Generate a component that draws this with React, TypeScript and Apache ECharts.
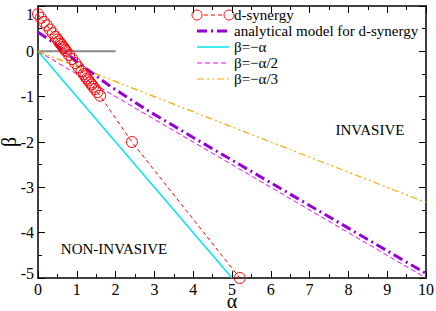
import React, { useEffect, useRef } from "react";
import * as echarts from "echarts";

const xTicks = [0, 10];
const yTicks = [-5, 1];

const dSynergy: number[][] = [
  [0.0, 0.82], [0.07, 0.74], [0.15, 0.65], [0.23, 0.57], [0.31, 0.48], [0.38, 0.4],
  [0.45, 0.32], [0.5, 0.26], [0.54, 0.22], [0.58, 0.17], [0.61, 0.14], [0.64, 0.1],
  [0.67, 0.07], [0.7, 0.03], [0.73, 0.0], [0.8, -0.08], [0.88, -0.17], [0.96, -0.26],
  [1.04, -0.35], [1.12, -0.44], [1.18, -0.5], [1.22, -0.55], [1.26, -0.6], [1.3, -0.64],
  [1.34, -0.69], [1.38, -0.73], [1.42, -0.78], [1.47, -0.83], [1.53, -0.9], [1.6, -0.98],
  [2.42, -2.0], [5.2, -5.0],
];
const analytical: number[][] = [
  [0, 0.42], [0.4, 0.19], [1.0, -0.23], [1.86, -0.77], [2.8, -1.29], [4, -1.9],
  [6, -2.9], [8, -3.9], [10, -4.9],
];
const lineMinusA: number[][] = [[0, 0], [5, -5]];
const lineMinusAHalf: number[][] = [[0, 0], [10, -5]];
const lineMinusAThird: number[][] = [[0, 0], [10, -3.333]];
const zeroRef: number[][] = [[0, 0], [2, 0]];

const legendNames = [
  "d-synergy",
  "analytical model for d-synergy",
  "β=−α",
  "β=−α/2",
  "β=−α/3",
];

const FONT = "Liberation Serif";
const RED = "#ff0000";
const PURPLE = "#9400d3";
const CYAN = "#00e5f0";
const MAGENTA = "#ff00ff";
const ORANGE = "#ffa500";

export default function App() {
  const ref = useRef<HTMLDivElement>(null);
  useEffect(() => {
    if (!ref.current) return;
    const chart = echarts.init(ref.current, null, { renderer: "svg" });
    const axisCommon = {
      type: "value" as const,
      axisLine: { show: true, onZero: false, lineStyle: { color: "#000", width: 1.5 } },
      axisTick: { show: true, inside: true, length: 7, lineStyle: { color: "#000", width: 1 } },
      minorTick: { show: true, splitNumber: 2, length: 4, lineStyle: { color: "#000", width: 1 } },
      splitLine: { show: false },
      minorSplitLine: { show: false },
    };
    const legendY0 = 15;
    const legendDy = 16;
    const lx0 = 197;
    const lx1 = 229;
    const styles = [
      { stroke: RED, lineWidth: 1, lineDash: [4, 3] },
      { stroke: PURPLE, lineWidth: 3, lineDash: [10, 4, 2, 4] },
      { stroke: CYAN, lineWidth: 1.5 },
      { stroke: MAGENTA, lineWidth: 1, lineDash: [5, 3] },
      { stroke: ORANGE, lineWidth: 1.2, lineDash: [7, 3, 2, 3, 2, 3] },
    ];
    const graphics: any[] = [];
    legendNames.forEach((name, i) => {
      const y = legendY0 + i * legendDy;
      graphics.push({
        type: "line",
        shape: { x1: lx0, y1: y, x2: lx1, y2: y },
        style: { ...styles[i], fill: null },
        silent: true,
      });
      if (i === 0) {
        graphics.push({ type: "circle", shape: { cx: lx0, cy: y, r: 5 }, style: { stroke: RED, fill: "#fff", lineWidth: 1 } });
        graphics.push({ type: "circle", shape: { cx: lx1, cy: y, r: 5 }, style: { stroke: RED, fill: "#fff", lineWidth: 1 } });
      }
      graphics.push({
        type: "text",
        x: 234,
        y: y,
        style: { text: name, fill: "#000", fontFamily: FONT, fontSize: 15, verticalAlign: "middle", align: "left" },
      });
    });
    graphics.push({
      type: "text",
      x: 370,
      y: 130,
      style: { text: "INVASIVE", fill: "#000", fontFamily: FONT, fontSize: 15, align: "center", verticalAlign: "middle" },
    });
    graphics.push({
      type: "text",
      x: 114,
      y: 249,
      style: { text: "NON-INVASIVE", fill: "#000", fontFamily: FONT, fontSize: 15, align: "center", verticalAlign: "middle" },
    });

    chart.setOption({
      animation: false,
      backgroundColor: "#fff",
      textStyle: { fontFamily: FONT },
      grid: { left: 38, right: 10, top: 6, bottom: 33, containLabel: false, outerBoundsMode: "none" },
      xAxis: [
        {
          ...axisCommon,
          position: "bottom",
          min: xTicks[0],
          max: xTicks[1],
          interval: 1,
          axisLabel: { show: true, color: "#000", fontFamily: FONT, fontSize: 16, margin: 3 },
          name: "α",
          nameLocation: "middle",
          nameGap: 14,
          nameMoveOverlap: false,
          nameTextStyle: { color: "#000", fontFamily: FONT, fontSize: 20, lineHeight: 18 },
        },
        {
          ...axisCommon,
          position: "top",
          min: xTicks[0],
          max: xTicks[1],
          interval: 1,
          axisLabel: { show: false },
        },
      ],
      yAxis: [
        {
          ...axisCommon,
          position: "left",
          min: yTicks[0],
          max: yTicks[1],
          interval: 1,
          axisLabel: {
            show: true,
            color: "#000",
            fontFamily: FONT,
            fontSize: 16,
            margin: 4,
            formatter: (v: number) => (v === 1 ? "{top|1}" : v === -5 ? "{bot|-5}" : String(v)),
            rich: {
              top: { fontFamily: FONT, fontSize: 16, color: "#000", padding: [16, 0, 0, 0] },
              bot: { fontFamily: FONT, fontSize: 16, color: "#000", padding: [0, 0, 10, 0] },
            },
          },
          name: "β",
          nameLocation: "middle",
          nameGap: 20,
          nameRotate: 90,
          nameMoveOverlap: false,
          nameTextStyle: { color: "#000", fontFamily: FONT, fontSize: 20, lineHeight: 18 },
        },
        {
          ...axisCommon,
          position: "right",
          min: yTicks[0],
          max: yTicks[1],
          interval: 1,
          axisLabel: { show: false },
        },
      ],
      graphic: graphics,
      series: [
        {
          type: "line",
          data: zeroRef,
          symbol: "none",
          lineStyle: { color: "#888", width: 2 },
          z: 1,
        },
        {
          type: "line",
          data: lineMinusA,
          symbol: "none",
          lineStyle: { color: CYAN, width: 1.5 },
        },
        {
          type: "line",
          data: lineMinusAHalf,
          symbol: "none",
          lineStyle: { color: MAGENTA, width: 1, type: [5, 3] },
        },
        {
          type: "line",
          data: lineMinusAThird,
          symbol: "none",
          lineStyle: { color: ORANGE, width: 1.2, type: [7, 3, 2, 3, 2, 3] },
        },
        {
          type: "line",
          data: analytical,
          symbol: "none",
          lineStyle: { color: PURPLE, width: 3, type: [10, 4, 2, 4] },
        },
        {
          type: "line",
          data: dSynergy,
          symbol: "circle",
          symbolSize: 11,
          showAllSymbol: true,
          clip: false,
          itemStyle: { color: "rgba(0,0,0,0)", borderColor: RED, borderWidth: 1 },
          lineStyle: { color: RED, width: 1, type: [4, 3] },
          z: 5,
        },
      ],
    });
    return () => chart.dispose();
  }, []);
  return <div ref={ref} style={{ position: "fixed", left: 0, top: 0, width: 436, height: 311 }} />;
}
